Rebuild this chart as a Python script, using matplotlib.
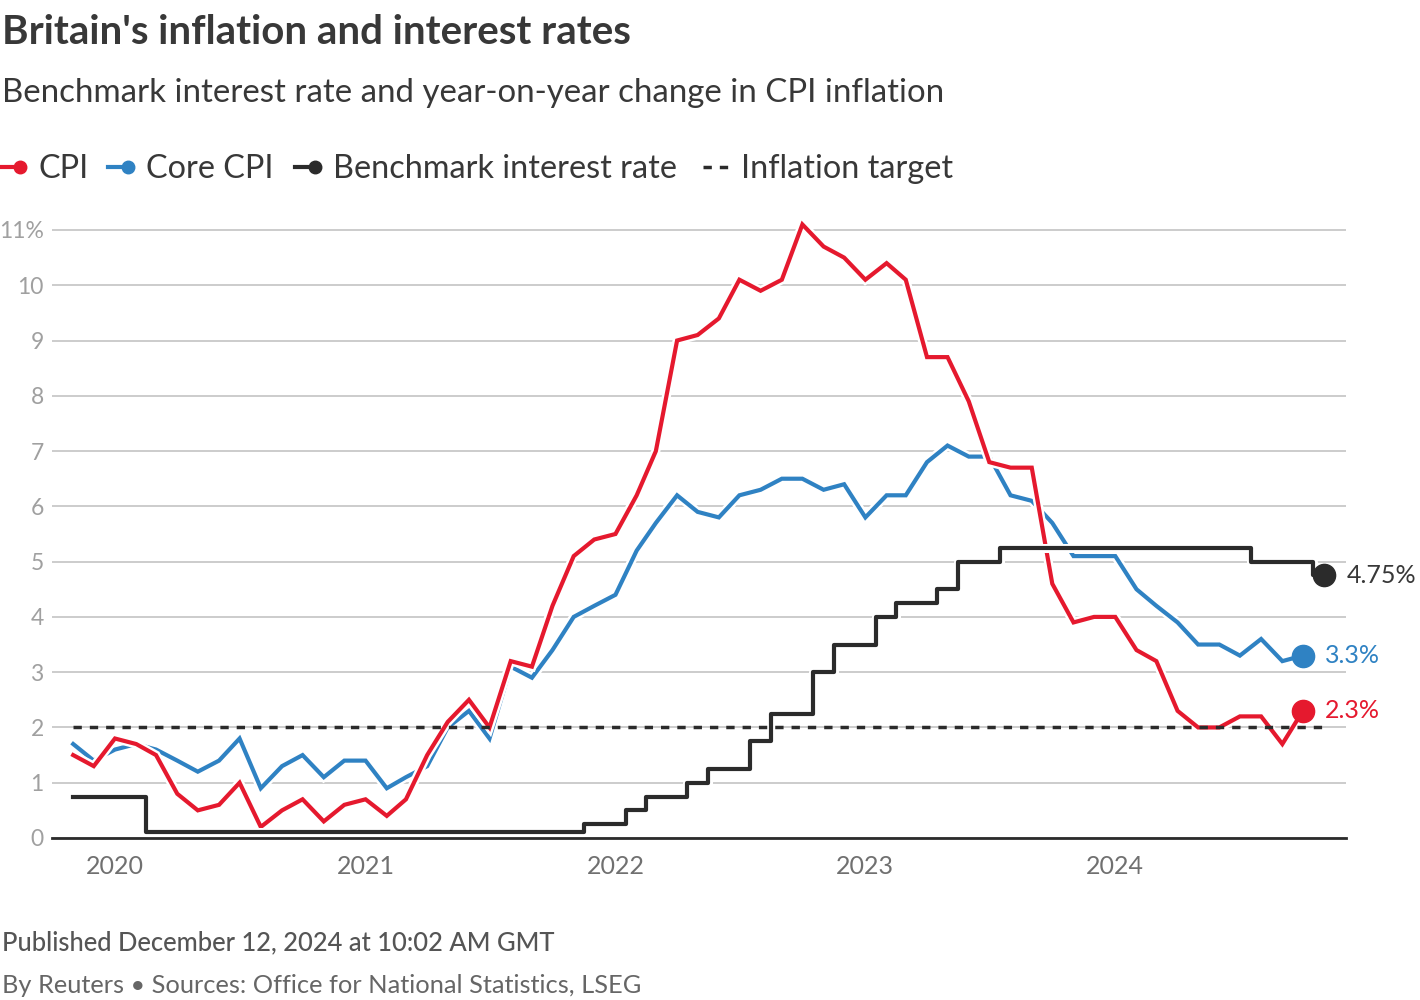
import numpy as np
import pandas as pd
import matplotlib
matplotlib.use('Agg')
import matplotlib.pyplot as plt
import matplotlib.patheffects as pe
from matplotlib.lines import Line2D

# monthly data, Nov 2019 onwards
cpi_months = pd.date_range('2019-11-01', '2024-10-01', freq='MS')
cpi = [1.5, 1.3,
       1.8, 1.7, 1.5, 0.8, 0.5, 0.6, 1.0, 0.2, 0.5, 0.7, 0.3, 0.6,
       0.7, 0.4, 0.7, 1.5, 2.1, 2.5, 2.0, 3.2, 3.1, 4.2, 5.1, 5.4,
       5.5, 6.2, 7.0, 9.0, 9.1, 9.4, 10.1, 9.9, 10.1, 11.1, 10.7, 10.5,
       10.1, 10.4, 10.1, 8.7, 8.7, 7.9, 6.8, 6.7, 6.7, 4.6, 3.9, 4.0,
       4.0, 3.4, 3.2, 2.3, 2.0, 2.0, 2.2, 2.2, 1.7, 2.3]
core_cpi = [1.7, 1.4,
            1.6, 1.7, 1.6, 1.4, 1.2, 1.4, 1.8, 0.9, 1.3, 1.5, 1.1, 1.4,
            1.4, 0.9, 1.1, 1.3, 2.0, 2.3, 1.8, 3.1, 2.9, 3.4, 4.0, 4.2,
            4.4, 5.2, 5.7, 6.2, 5.9, 5.8, 6.2, 6.3, 6.5, 6.5, 6.3, 6.4,
            5.8, 6.2, 6.2, 6.8, 7.1, 6.9, 6.9, 6.2, 6.1, 5.7, 5.1, 5.1,
            5.1, 4.5, 4.2, 3.9, 3.5, 3.5, 3.3, 3.6, 3.2, 3.3]

rate_months = pd.date_range('2019-11-01', '2024-11-01', freq='MS')
bank_rate = [0.75, 0.75,
             0.75, 0.75, 0.1, 0.1, 0.1, 0.1, 0.1, 0.1, 0.1, 0.1, 0.1, 0.1,
             0.1, 0.1, 0.1, 0.1, 0.1, 0.1, 0.1, 0.1, 0.1, 0.1, 0.1, 0.25,
             0.25, 0.5, 0.75, 0.75, 1.0, 1.25, 1.25, 1.75, 2.25, 2.25, 3.0, 3.5,
             3.5, 4.0, 4.25, 4.25, 4.5, 5.0, 5.0, 5.25, 5.25, 5.25, 5.25, 5.25,
             5.25, 5.25, 5.25, 5.25, 5.25, 5.25, 5.25, 5.0, 5.0, 5.0, 4.75]

inflation_target = 2.0
years = ['2020', '2021', '2022', '2023', '2024']
y_ticks = list(range(0, 12))

RED = '#e5192e'
BLUE = '#2f82c3'
BLACK = '#2b2b2b'
TEXT = '#383838'

plt.rcParams['font.family'] = ['Lato', 'DejaVu Sans']

fig = plt.figure(figsize=(14.2, 10), dpi=100)
ax = fig.add_axes([0.0366, 0.162, 0.9113, 0.6246])

halo = [pe.Stroke(linewidth=6.5, foreground='white'), pe.Normal()]

ax.plot(cpi_months, core_cpi, color=BLUE, lw=3, path_effects=halo, zorder=3,
        solid_joinstyle='miter')
ax.plot(cpi_months, cpi, color=RED, lw=3, path_effects=halo, zorder=4,
        solid_joinstyle='miter')
ax.plot(rate_months, bank_rate, color=BLACK, lw=3, drawstyle='steps-mid',
        path_effects=halo, zorder=5)
ax.plot([rate_months[0], rate_months[-1]], [inflation_target, inflation_target],
        color=BLACK, lw=2.5, dashes=(2.4, 2.3), zorder=6)

# end points and labels
ends = [(cpi_months[-1], cpi[-1], RED, f'{cpi[-1]}%'),
        (cpi_months[-1], core_cpi[-1], BLUE, f'{core_cpi[-1]}%'),
        (rate_months[-1], bank_rate[-1], BLACK, f'{bank_rate[-1]}%')]
for x, y, c, lab in ends:
    ax.plot([x], [y], 'o', color=c, ms=16, zorder=7, clip_on=False)
    ax.annotate(lab, (x, y), xytext=(16, 0), textcoords='offset points',
                va='center', ha='left', fontsize=18, color=c if c != BLACK else TEXT,
                annotation_clip=False)

ax.set_xlim(pd.Timestamp('2019-10-01'), pd.Timestamp('2024-12-03'))
ax.set_ylim(0, 11.3)

ax.set_yticks(y_ticks)
ax.set_yticklabels([str(v) if v < 11 else '11%' for v in y_ticks])
ax.set_xticks([pd.Timestamp(y + '-01-01') for y in years])
ax.set_xticklabels(years)
ax.tick_params(axis='y', length=0, pad=6, labelsize=16.5, labelcolor='#a0a0a0')
ax.tick_params(axis='x', length=0, pad=12, labelsize=18, labelcolor='#707070')

ax.grid(axis='y', color='#c4c4c4', lw=1.2)
ax.set_axisbelow(True)
for s in ['top', 'right', 'left']:
    ax.spines[s].set_visible(False)
ax.spines['bottom'].set_color(BLACK)
ax.spines['bottom'].set_linewidth(2)
ax.spines['bottom'].set_zorder(2)

# title block
W, H = 1420, 1000
fig.text(2 / W, 1 - 44 / H, "Britain's inflation and interest rates", fontsize=29,
         fontweight='bold', color=TEXT, va='baseline')
fig.text(2 / W, 1 - 102 / H, 'Benchmark interest rate and year-on-year change in CPI inflation',
         fontsize=23.8, color=TEXT, va='baseline')

# legend row
legend_items = [(RED, 'solid', 'CPI', 0), (BLUE, 'solid', 'Core CPI', 108),
                (BLACK, 'solid', 'Benchmark interest rate', 295),
                (BLACK, 'dash', 'Inflation target', 703)]
ly = 1 - 167 / H
for c, kind, lab, x0 in legend_items:
    if kind == 'solid':
        fig.add_artist(Line2D([x0 / W, (x0 + 20) / W], [ly, ly], color=c, lw=3))
        fig.add_artist(Line2D([(x0 + 20) / W], [ly], marker='o', ms=9, color=c))
    else:
        fig.add_artist(Line2D([x0 / W, (x0 + 30) / W], [ly, ly], color=c, lw=2.5,
                              dashes=(2.4, 2.3)))
    fig.text((x0 + 38) / W, 1 - 178 / H, lab, fontsize=23.3, color=TEXT, va='baseline')

fig.text(2 / W, 1 - 950 / H, 'Published December 12, 2024 at 10:02 AM GMT', fontsize=18.4,
         color='#555555', va='baseline', fontweight='medium')
fig.text(2 / W, 1 - 993 / H, 'By Reuters \u2022 Sources: Office for National Statistics, LSEG',
         fontsize=18.3, color='#666666', va='baseline')

fig.savefig('out.png', dpi=100, facecolor='white')
